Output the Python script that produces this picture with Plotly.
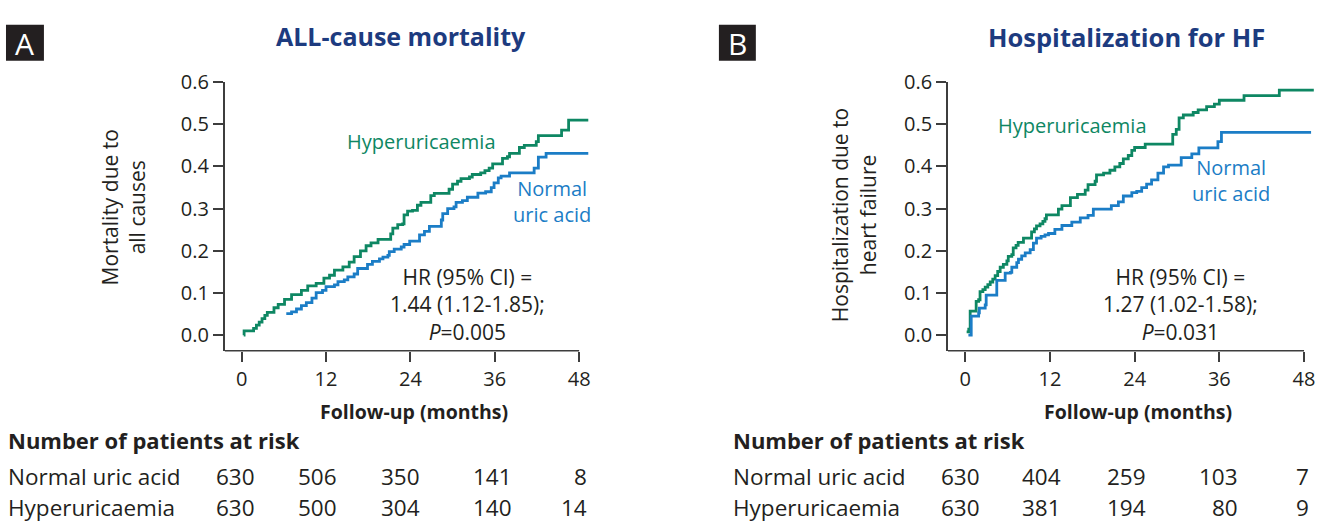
import plotly.graph_objects as go

W, H = 1317, 522

# ---- Kaplan-Meier style cumulative incidence curves (months, cumulative event rate) ----
# Panel A: all-cause mortality
mort_hyper_t = [0.3, 0.35, 1.7, 2.1, 2.5, 2.9, 3.3, 3.65, 4.6, 5.2, 6.1, 7.1, 8.5, 9.4, 10.6, 11.7,
                12.5, 13.2, 14.4, 15.3, 16.0, 16.9, 17.7, 18.4, 19.4, 21.2, 21.5, 22.2, 22.9, 23.1,
                23.6, 24.3, 25.0, 25.5, 26.9, 27.4, 29.5, 30.0, 30.7, 31.2, 32.4, 32.8, 34.0, 34.6,
                35.2, 35.7, 37.1, 37.8, 38.1, 39.5, 40.2, 41.9, 42.2, 45.5, 46.5, 49.3]
mort_hyper_v = [0.0, 0.01, 0.016, 0.024, 0.031, 0.039, 0.047, 0.054, 0.065, 0.073, 0.085, 0.096,
                0.106, 0.117, 0.123, 0.135, 0.142, 0.154, 0.162, 0.173, 0.186, 0.200, 0.212, 0.219,
                0.227, 0.240, 0.254, 0.262, 0.264, 0.285, 0.294, 0.296, 0.308, 0.315, 0.331, 0.336,
                0.346, 0.358, 0.365, 0.371, 0.375, 0.381, 0.385, 0.390, 0.396, 0.406, 0.419, 0.423,
                0.431, 0.445, 0.450, 0.459, 0.473, 0.486, 0.510, 0.510]

mort_normal_t = [6.35, 7.1, 7.8, 8.5, 9.2, 10.0, 10.6, 11.5, 12.0, 13.2, 13.7, 14.6, 15.1, 16.0,
                 16.5, 17.9, 18.6, 19.6, 20.1, 20.8, 21.0, 21.7, 22.7, 23.1, 23.9, 25.3, 26.0, 26.7,
                 28.4, 28.6, 29.3, 30.2, 30.5, 31.4, 32.1, 33.6, 34.7, 35.5, 35.9, 36.5, 36.9, 38.1,
                 41.6, 42.2, 43.3, 49.3]
mort_normal_v = [0.051, 0.055, 0.062, 0.070, 0.077, 0.088, 0.101, 0.106, 0.115, 0.119, 0.127,
                 0.131, 0.138, 0.145, 0.158, 0.168, 0.175, 0.181, 0.185, 0.189, 0.198, 0.204, 0.209,
                 0.215, 0.223, 0.238, 0.246, 0.258, 0.273, 0.288, 0.300, 0.304, 0.315, 0.319, 0.327,
                 0.337, 0.340, 0.350, 0.361, 0.373, 0.377, 0.385, 0.396, 0.422, 0.431, 0.431]

# Panel B: hospitalization for heart failure
hf_hyper_t = [0.2, 0.5, 0.7, 1.55, 1.9, 2.1, 2.5, 2.83, 3.2, 3.54, 3.9, 4.24, 4.6, 4.95, 5.4, 5.9,
              6.1, 6.6, 6.8, 7.2, 7.5, 8.25, 9.4, 9.8, 10.1, 10.6, 11.0, 11.3, 11.5, 13.2, 13.7,
              14.9, 15.9, 17.0, 17.4, 18.4, 18.6, 19.6, 20.5, 21.2, 21.9, 22.4, 23.1, 23.6, 24.0,
              25.5, 29.4, 29.9, 30.3, 30.9, 32.3, 33.0, 34.2, 35.3, 36.0, 39.5, 44.5, 49.4]
hf_hyper_v = [0.008, 0.014, 0.057, 0.080, 0.084, 0.103, 0.108, 0.114, 0.120, 0.126, 0.133, 0.141,
              0.151, 0.161, 0.168, 0.176, 0.187, 0.191, 0.207, 0.213, 0.220, 0.230, 0.245, 0.252,
              0.259, 0.264, 0.270, 0.276, 0.285, 0.299, 0.307, 0.326, 0.334, 0.344, 0.357, 0.365,
              0.380, 0.384, 0.391, 0.399, 0.407, 0.418, 0.426, 0.438, 0.445, 0.453, 0.476, 0.488,
              0.515, 0.522, 0.528, 0.534, 0.542, 0.548, 0.557, 0.568, 0.581, 0.581]

hf_normal_t = [0.45, 0.85, 1.9, 2.0, 2.83, 2.97, 4.47, 5.66, 6.4, 6.6, 7.3, 7.54, 8.0, 8.5, 9.2,
               9.66, 10.1, 10.75, 11.3, 11.8, 12.7, 13.7, 15.1, 16.3, 17.4, 18.15, 20.7, 21.7,
               22.4, 23.6, 24.3, 25.0, 25.7, 26.4, 27.3, 28.1, 28.8, 30.6, 32.1, 33.1, 35.8, 36.3,
               49.0]
hf_normal_v = [0.0, 0.045, 0.053, 0.064, 0.072, 0.095, 0.130, 0.147, 0.149, 0.161, 0.172, 0.180,
               0.188, 0.195, 0.203, 0.218, 0.230, 0.234, 0.238, 0.241, 0.251, 0.260, 0.268, 0.278,
               0.284, 0.299, 0.307, 0.316, 0.330, 0.338, 0.341, 0.350, 0.358, 0.368, 0.384, 0.399,
               0.403, 0.421, 0.430, 0.444, 0.459, 0.481, 0.481]

# ---- axis ticks ----
x_ticks = [0, 12, 24, 36, 48]
y_ticks = [0.0, 0.1, 0.2, 0.3, 0.4, 0.5, 0.6]
y_ticktext = ["0.0", "0.1", "0.2", "0.3", "0.4", "0.5", "0.6"]

# ---- numbers at risk ----
risk_groups = ["Normal uric acid", "Hyperuricaemia"]
risk_mort_normal = [630, 506, 350, 141, 8]
risk_mort_hyper = [630, 500, 304, 140, 14]
risk_hf_normal = [630, 404, 259, 103, 7]
risk_hf_hyper = [630, 381, 194, 80, 9]

GREEN = "#0e8763"
BLUE = "#1b7dc6"
NAVY = "#1d3b7f"
TEXT = "#231f20"
AXIS = "#3d3d3d"
FONT = "Open Sans"


def px(x):
    return x / W


def py(y):
    return 1 - y / H


fig = go.Figure()

for t, v, col, xa, ya in ((mort_hyper_t, mort_hyper_v, GREEN, "x", "y"),
                          (mort_normal_t, mort_normal_v, BLUE, "x", "y"),
                          (hf_hyper_t, hf_hyper_v, GREEN, "x2", "y2"),
                          (hf_normal_t, hf_normal_v, BLUE, "x2", "y2")):
    fig.add_trace(go.Scatter(x=t, y=v, mode="lines", line=dict(color=col, width=2.8, shape="hv"),
                             xaxis=xa, yaxis=ya, showlegend=False, hoverinfo="skip"))

# plot areas (pixel geometry of the two panels)
A_left, A_right = 225.0, 591.3
B_left, B_right = 949.3, 1315.9
top_px, bot_px = 70.0, 346.0
A_xrange = [-2.414, 49.6]
B_xrange = [-2.461, 49.4]
y_range = [-0.0369, 0.6]

common_x = dict(tickmode="array", tickvals=x_ticks, ticks="outside", ticklen=10, tickwidth=1.5,
                tickcolor=AXIS, showgrid=False, zeroline=False, showline=False,
                ticklabeloverflow="allow",
                tickfont=dict(family=FONT, size=20, color=TEXT), fixedrange=True)
common_y = dict(tickmode="array", tickvals=y_ticks, ticktext=y_ticktext, ticks="outside", ticklen=10,
                tickwidth=1.5, tickcolor=AXIS, showgrid=False, zeroline=False, showline=True,
                linecolor=AXIS, linewidth=1.5, range=y_range, ticklabeloverflow="allow",
                tickfont=dict(family=FONT, size=20, color=TEXT), fixedrange=True)

fig.update_layout(
    width=W, height=H,
    margin=dict(l=0, r=0, t=0, b=0),
    paper_bgcolor="white", plot_bgcolor="white",
    xaxis=dict(domain=[px(A_left), px(A_right)], range=A_xrange, anchor="y", **common_x),
    yaxis=dict(domain=[py(bot_px), py(top_px)], anchor="x", **common_y),
    xaxis2=dict(domain=[px(B_left), px(B_right)], range=B_xrange, anchor="y2", **common_x),
    yaxis2=dict(domain=[py(bot_px), py(top_px)], anchor="x2", **common_y),
)

shapes = []
# bottom axis lines ending at the last tick
for xr, yr, rng in (("x", "y domain", A_xrange), ("x2", "y2 domain", B_xrange)):
    shapes.append(dict(type="line", xref=xr, yref=yr, x0=rng[0], x1=48, y0=0, y1=0,
                       line=dict(color=AXIS, width=1.5)))
# panel letter boxes
for x0, x1 in ((6, 44), (720, 757)):
    shapes.append(dict(type="rect", xref="paper", yref="paper", x0=px(x0), x1=px(x1), y0=py(48), y1=py(11),
                       fillcolor=TEXT, line=dict(width=0)))
fig.update_layout(shapes=shapes)

ann = []


def text(x, y, s, size, color=TEXT, bold=False, xanchor="center", angle=0, yanchor="middle"):
    ann.append(dict(xref="paper", yref="paper", x=px(x), y=py(y), text=f"<b>{s}</b>" if bold else s,
                    showarrow=False, xanchor=xanchor, yanchor=yanchor, textangle=angle,
                    font=dict(family=FONT, size=size, color=color)))


# panel letters and titles
text(25, 30, "A", 30, color="white")
text(738.5, 30, "B", 30, color="white")
text(402, 23, "ALL-cause mortality", 25, color=NAVY, bold=True)
text(1128, 24, "Hospitalization for HF", 25.5, color=NAVY, bold=True)

# axis titles
text(124, 199, "Mortality due to<br>all causes", 21, angle=-90)
text(855, 207, "Hospitalization due to<br>heart failure", 21, angle=-90)
text(415, 408, "Follow-up (months)", 19.5, bold=True)
text(1140, 408, "Follow-up (months)", 19.5, bold=True)

# curve labels
text(422, 131, "Hyperuricaemia", 20, color=GREEN)
text(553, 193, "Normal<br>uric acid", 20, color=BLUE)
text(1074, 115, "Hyperuricaemia", 20, color=GREEN)
text(1233, 171, "Normal<br>uric acid", 20, color=BLUE)

# hazard ratios
text(468, 299, "HR (95% CI) =<br>1.44 (1.12-1.85);<br><i>P</i>=0.005", 21)
text(1182, 299, "HR (95% CI) =<br>1.27 (1.02-1.58);<br><i>P</i>=0.031", 21)

# numbers at risk
A_cols = [257, 340, 423, 515, 590]
B_cols = [983, 1065, 1150, 1242, 1313]
for left, cols, rows in ((6, A_cols, (risk_mort_normal, risk_mort_hyper)),
                         (732, B_cols, (risk_hf_normal, risk_hf_hyper))):
    text(left, 438, "Number of patients at risk", 22, bold=True, xanchor="left")
    for yrow, name, vals in zip((475, 507), risk_groups, rows):
        text(left, yrow, name, 22.5, xanchor="left")
        for xc, v in zip(cols, vals):
            text(xc, yrow, str(v), 22.5, xanchor="right")

fig.update_layout(annotations=ann)
fig.write_html("out.html")
